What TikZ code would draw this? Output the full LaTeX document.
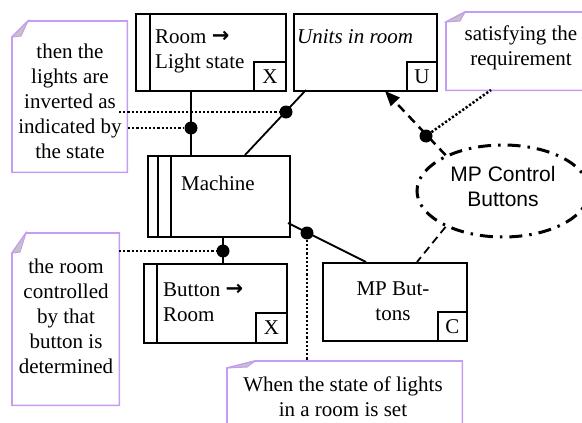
\documentclass[tikz,border=0pt]{standalone}
\usepackage{fontspec}
\setmainfont{Liberation Serif}
\newfontfamily\sansf{Liberation Sans}
\newfontfamily\arrowf{DejaVu Sans}
\usetikzlibrary{arrows.meta,shapes.geometric}
\definecolor{notepurple}{HTML}{C49CF2}
\definecolor{foldgrey}{HTML}{C4C4C4}
\newcommand{\rarr}{\raisebox{0.5pt}{\arrowf\bfseries →}}
\begin{document}
\begin{tikzpicture}[x=1pt,y=-1pt,
  every node/.style={font=\fontsize{21}{25}\selectfont},
  box/.style={draw, line width=1.8pt, inner sep=0pt, anchor=north west},
  corner/.style={draw, line width=1.8pt, inner sep=0pt, anchor=south east},
  txt/.style={inner sep=0pt, align=left, anchor=west},
  ntxt/.style={inner sep=0pt, align=center},
  noteframe/.style={draw=notepurple, line width=1.6pt, fill=white},
  fold/.style={fill=foldgrey, draw=notepurple, line width=1pt},
  conn/.style={line width=1.8pt},
  dotline/.style={line width=2.5pt, dash pattern=on 2.2pt off 2pt},
  blob/.style={circle, fill=black, inner sep=0pt, minimum size=13pt},
  dasharrow/.style={line width=2.5pt, dash pattern=on 9pt off 6pt, -{Triangle[length=15pt,width=12pt]}},
  thindash/.style={line width=1.8pt, dash pattern=on 8pt off 5pt},
  ellbox/.style={draw, ellipse, line width=3pt, dash pattern=on 13pt off 7pt on 2.5pt off 7pt, minimum width=172pt, minimum height=92pt, inner sep=0pt}
]
\useasboundingbox (0,0) rectangle (582,423);

% ---------- notes ----------
\node[inner sep=0pt, minimum width=115pt, minimum height=151pt, anchor=north west] (n1) at (12,21) {};
\draw[noteframe] ([xshift=16pt]n1.north west) -- (n1.north east) -- (n1.south east) -- (n1.south west) -- ([yshift=-16pt]n1.north west) -- cycle;
\draw[fold] ([xshift=16pt]n1.north west) -- ([xshift=9pt,yshift=-15pt]n1.north west) -- ([yshift=-16pt]n1.north west) -- cycle;
\node[ntxt] (t1) at (70,101) {then the\\lights are\\inverted as\\indicated by\\the state};

\node[inner sep=0pt, minimum width=107pt, minimum height=172pt, anchor=north west] (n2) at (12,233) {};
\draw[noteframe] ([xshift=14pt]n2.north west) -- (n2.north east) -- (n2.south east) -- (n2.south west) -- ([yshift=-20pt]n2.north west) -- cycle;
\draw[fold] ([xshift=14pt]n2.north west) -- ([xshift=8pt,yshift=-19pt]n2.north west) -- ([yshift=-20pt]n2.north west) -- cycle;
\node[ntxt] (t2) at (66,316) {the room\\controlled\\by that\\button is\\determined};

\node[inner sep=0pt, minimum width=150pt, minimum height=78pt, anchor=north west] (n3) at (446,12) {};
\draw[noteframe] ([xshift=19pt]n3.north west) -- (n3.north east) -- (n3.south east) -- (n3.south west) -- ([yshift=-10pt]n3.north west) -- cycle;
\draw[fold] ([xshift=19pt]n3.north west) -- ([xshift=14pt,yshift=-9pt]n3.north west) -- ([yshift=-10pt]n3.north west) -- cycle;
\node[ntxt] (t3) at (521,48) {satisfying the\\requirement};

\node[inner sep=0pt, minimum width=235pt, minimum height=75pt, anchor=north west] (n4) at (227,361) {};
\draw[noteframe] ([xshift=28pt]n4.north west) -- (n4.north east) -- (n4.south east) -- (n4.south west) -- ([yshift=-7pt]n4.north west) -- cycle;
\draw[fold] ([xshift=28pt]n4.north west) -- ([xshift=20pt,yshift=-6pt]n4.north west) -- ([yshift=-7pt]n4.north west) -- cycle;
\node[ntxt] (t4) at (343,397) {When the state of lights\\in a room is set};

% ---------- domain boxes ----------
\node[box, minimum width=150pt, minimum height=77pt] (room) at (135,13) {};
\draw[line width=1.8pt] ([xshift=15pt]room.north west) -- ([xshift=15pt]room.south west);
\node[corner, minimum width=32pt, minimum height=29pt] (roomx) at (room.south east) {X};
\node[txt] (roomt) at (155,51) {Room \rarr\\Light state};

\node[box, minimum width=143pt, minimum height=77pt] (units) at (293,13) {};
\node[corner, minimum width=30pt, minimum height=29pt] (unitsu) at (units.south east) {U};
\node[txt] (unitst) at (297,37) {\itshape Units in room};

\node[box, minimum width=142pt, minimum height=81pt] (mach) at (147,155) {};
\draw[line width=1.8pt] ([xshift=11pt]mach.north west) -- ([xshift=11pt]mach.south west);
\draw[line width=1.8pt] ([xshift=24pt]mach.north west) -- ([xshift=24pt]mach.south west);
\node[txt] (macht) at (181,183) {Machine};

\node[box, minimum width=143pt, minimum height=79pt] (btn) at (143,263) {};
\draw[line width=1.8pt] ([xshift=14pt]btn.north west) -- ([xshift=14pt]btn.south west);
\node[corner, minimum width=31pt, minimum height=30pt] (btnx) at (btn.south east) {X};
\node[txt] (btnt) at (163,302) {Button \rarr\\Room};

\node[box, minimum width=144pt, minimum height=78pt] (mpb) at (322,262) {};
\node[corner, minimum width=29pt, minimum height=29pt] (mpbc) at (mpb.south east) {C};
\node[ntxt] (mpbt) at (393,301) {MP But-\\tons};

\node[ellbox] (ell) at (503,191) {};
\node[ntxt, font=\sansf\fontsize{21}{25}\selectfont] (ellt) at (503,186) {MP Control\\Buttons};

% ---------- connectors ----------
\coordinate (c1a) at (191,90);
\coordinate (c1b) at (191,155);
\draw[conn] (c1a) -- (c1b);
\node[blob] (d1) at (191,128) {};

\coordinate (c2a) at (306,90);
\coordinate (c2b) at (245,155);
\draw[conn] (c2a) -- (c2b);
\node[blob] (d2) at (286,112) {};

\coordinate (c3a) at (223,236);
\coordinate (c3b) at (223,263);
\draw[conn] (c3a) -- (c3b);
\node[blob] (d3) at (223,251) {};

\coordinate (c4a) at (288,223);
\coordinate (c4b) at (366,262);
\draw[conn] (c4a) -- (c4b);
\node[blob] (d4) at (307,233) {};

\coordinate (c5b) at (385,91);
\draw[dasharrow] (ell.148) -- (c5b);
\node[blob] (d5) at (426,136) {};

\coordinate (c6b) at (417,262);
\draw[thindash] (ell.212) -- (c6b);

% dotted annotation links
\coordinate (e1) at (119,112);
\draw[dotline] (e1) -- (d2);
\coordinate (e2) at (128,128);
\draw[dotline] (e2) -- (d1);
\coordinate (e3) at (119,251);
\draw[dotline] (e3) -- (d3);
\coordinate (e4) at (307,361);
\draw[dotline] (d4) -- (e4);
\coordinate (e5) at (491,90);
\draw[dotline] (d5) -- (e5);
\end{tikzpicture}
\end{document}
